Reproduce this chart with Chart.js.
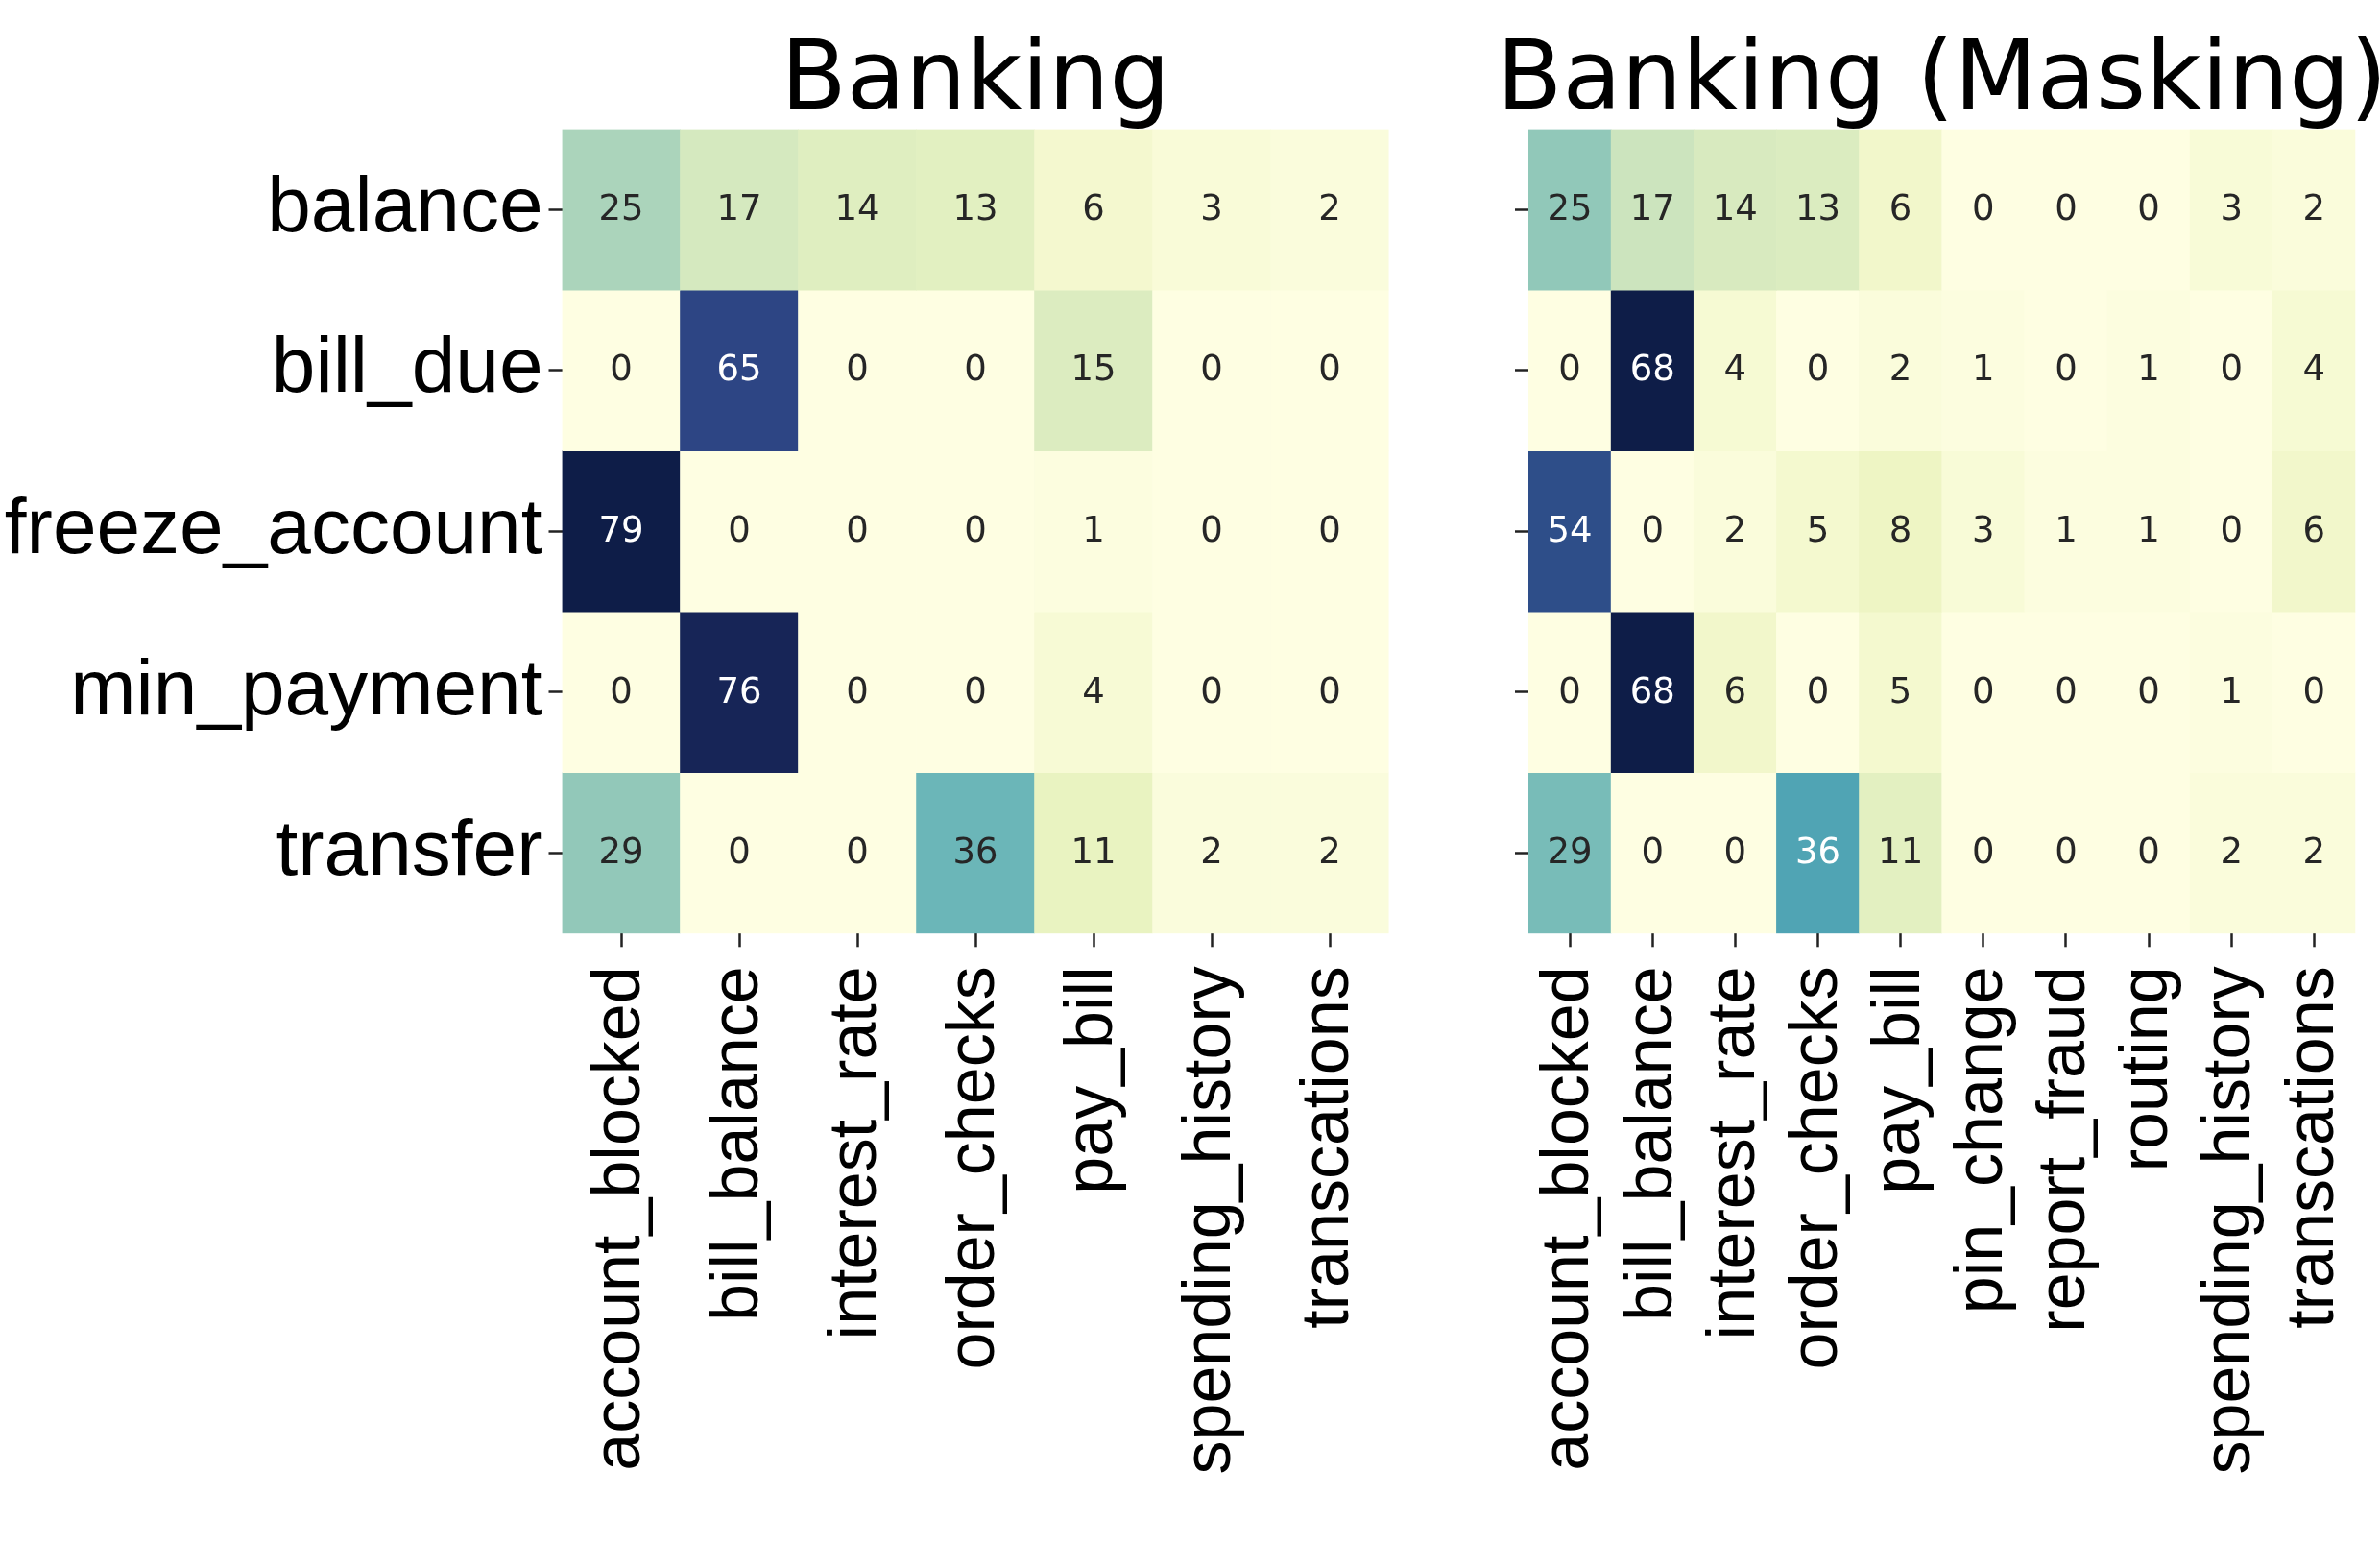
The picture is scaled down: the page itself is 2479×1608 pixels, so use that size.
<!DOCTYPE html>
<html>
<head>
<meta charset="utf-8">
<script src="https://cdn.jsdelivr.net/npm/chart.js@4.4.1/dist/chart.umd.min.js"></script>
<style>
  html, body { margin: 0; padding: 0; background: #fff; }
  body { width: 2479px; height: 1608px; position: relative; overflow: hidden; }
  .box { position: absolute; top: 0; height: 1608px; }
  #leftBox { left: 0; width: 1480px; }
  #rightBox { left: 1480px; width: 999px; }
</style>
</head>
<body>
<div class="box" id="leftBox"><canvas id="left"></canvas></div>
<div class="box" id="rightBox"><canvas id="right"></canvas></div>
<script>
// rows (true intent) shared by both panels
const rowLabels = ['balance', 'bill_due', 'freeze_account', 'min_payment', 'transfer'];

// Banking
const bankCols = ['account_blocked', 'bill_balance', 'interest_rate', 'order_checks', 'pay_bill', 'spending_history', 'transcations'];
const bankBalance  = [25, 17, 14, 13, 6, 3, 2];
const bankBillDue  = [0, 65, 0, 0, 15, 0, 0];
const bankFreeze   = [79, 0, 0, 0, 1, 0, 0];
const bankMinPay   = [0, 76, 0, 0, 4, 0, 0];
const bankTransfer = [29, 0, 0, 36, 11, 2, 2];

// Banking (Masking)
const maskCols = ['account_blocked', 'bill_balance', 'interest_rate', 'order_checks', 'pay_bill', 'pin_change', 'report_fraud', 'routing', 'spending_history', 'transcations'];
const maskBalance  = [25, 17, 14, 13, 6, 0, 0, 0, 3, 2];
const maskBillDue  = [0, 68, 4, 0, 2, 1, 0, 1, 0, 4];
const maskFreeze   = [54, 0, 2, 5, 8, 3, 1, 1, 0, 6];
const maskMinPay   = [0, 68, 6, 0, 5, 0, 0, 0, 1, 0];
const maskTransfer = [29, 0, 0, 36, 11, 0, 0, 0, 2, 2];

const LABEL_FONT = '"Liberation Sans", Arial, Helvetica, sans-serif';
const DV_FONT = '"DejaVu Sans", sans-serif';

// YlGnBu
const ylgnbu = [[255,255,217],[237,248,177],[199,233,180],[127,205,187],[65,182,196],[29,145,192],[34,94,168],[37,52,148],[8,29,88]];
function rawColor(t) {
  t = Math.max(0, Math.min(1, t));
  const p = t * 8, i = Math.min(7, Math.floor(p)), f = p - i;
  const a = ylgnbu[i], b = ylgnbu[i + 1];
  return a.map((v, k) => v + (b[k] - v) * f);
}
// a bit washed out, like the scan
function cmap(t) {
  const c = rawColor(t);
  const lum = 0.299 * c[0] + 0.587 * c[1] + 0.114 * c[2];
  return c.map(v => Math.round(lum + (v - lum) * 0.72));
}
function relLum(c) {
  const l = c.map(v => { v /= 255; return v <= 0.03928 ? v / 12.92 : Math.pow((v + 0.055) / 1.055, 2.4); });
  return 0.2126 * l[0] + 0.7152 * l[1] + 0.0722 * l[2];
}

const heatLabels = {
  id: 'heatLabels',
  afterDatasetsDraw(chart) {
    const ctx = chart.ctx;
    ctx.save();
    ctx.font = '37px ' + DV_FONT;
    ctx.textAlign = 'center';
    ctx.textBaseline = 'middle';
    chart.data.datasets.forEach((ds, di) => {
      chart.getDatasetMeta(di).data.forEach((bar, j) => {
        const v = ds.values[j];
        const c = rawColor(v / chart.options.vmax);
        ctx.fillStyle = relLum(c) < 0.408 ? '#ffffff' : '#262626';
        ctx.fillText(String(v), bar.x, (bar.y + bar.base) / 2 + 1);
      });
    });
    ctx.restore();
  }
};

const panelTitle = {
  id: 'panelTitle',
  afterDraw(chart) {
    const ctx = chart.ctx, a = chart.chartArea;
    ctx.save();
    ctx.font = '100px ' + DV_FONT;
    ctx.fillStyle = '#000';
    ctx.textAlign = 'center';
    ctx.textBaseline = 'alphabetic';
    ctx.fillText(chart.options.panelTitle, (a.left + a.right) / 2, 113);
    ctx.restore();
  }
};

function makeHeatmap(canvasId, title, cols, rows, yWidth, padRight, showRowLabels) {
  const vmax = Math.max(...rows.flat());
  const datasets = rows.map((vals, r) => ({
    label: rowLabels[r],
    values: vals,
    data: vals.map(() => [r, r + 1]),
    backgroundColor: vals.map(v => 'rgb(' + cmap(v / vmax).join(',') + ')'),
    borderWidth: 0,
    categoryPercentage: 1,
    barPercentage: 1
  }));
  const tickGrid = {
    display: true,
    drawOnChartArea: false,
    drawTicks: true,
    tickLength: 14,
    tickWidth: 2.5,
    tickColor: '#222'
  };
  return new Chart(document.getElementById(canvasId).getContext('2d'), {
    type: 'bar',
    data: { labels: cols, datasets: datasets },
    plugins: [heatLabels, panelTitle],
    options: {
      responsive: true,
      maintainAspectRatio: false,
      animation: false,
      vmax: vmax,
      panelTitle: title,
      layout: { padding: { top: 134.5, right: padRight, bottom: 0, left: 0 } },
      plugins: { legend: { display: false }, tooltip: { enabled: false } },
      scales: {
        x: {
          type: 'category',
          stacked: true,
          offset: true,
          border: { display: false },
          grid: Object.assign({ offset: false }, tickGrid),
          ticks: {
            autoSkip: false,
            minRotation: 90,
            maxRotation: 90,
            padding: 20,
            color: '#000',
            font: { family: LABEL_FONT, size: 70 }
          },
          afterFit(s) {
            s.height = 635.7;
            s.paddingLeft = 0;
            s.paddingRight = 0;
          }
        },
        y: {
          type: 'linear',
          stacked: false,
          min: 0,
          max: rowLabels.length,
          reverse: true,
          border: { display: false },
          grid: tickGrid,
          afterBuildTicks(s) { s.ticks = rowLabels.map((_, i) => ({ value: i + 0.5 })); },
          ticks: {
            padding: 6,
            color: '#000',
            font: { family: LABEL_FONT, size: 82 },
            callback: (v) => showRowLabels ? rowLabels[Math.floor(v)] : ''
          },
          afterFit(s) {
            s.width = yWidth;
            s.paddingTop = 0;
            s.paddingBottom = 0;
          }
        }
      }
    }
  });
}

makeHeatmap('left', 'Banking', bankCols,
  [bankBalance, bankBillDue, bankFreeze, bankMinPay, bankTransfer], 585.5, 33.4, true);
makeHeatmap('right', 'Banking (Masking)', maskCols,
  [maskBalance, maskBillDue, maskFreeze, maskMinPay, maskTransfer], 112, 25.6, false);
</script>
</body>
</html>
